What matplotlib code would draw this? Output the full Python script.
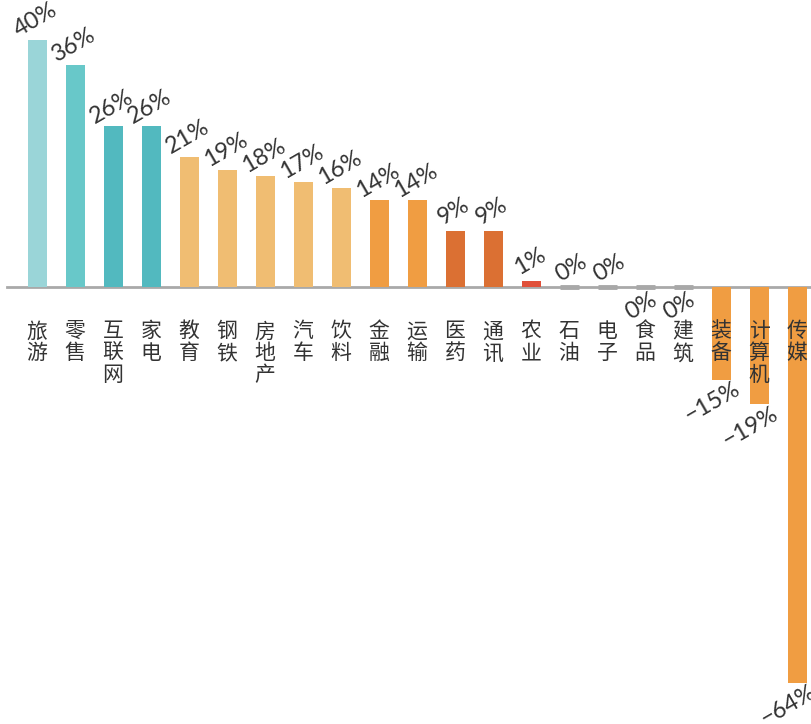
import matplotlib
matplotlib.use("Agg")
import matplotlib.pyplot as plt

plt.rcParams['font.family'] = ['Noto Sans CJK SC', 'DejaVu Sans']

categories = ["旅游", "零售", "互联网", "家电", "教育", "钢铁", "房地产", "汽车", "饮料",
              "金融", "运输", "医药", "通讯", "农业", "石油", "电子", "食品", "建筑",
              "装备", "计算机", "传媒"]
values = [40, 36, 26, 26, 21, 19, 18, 17, 16, 14, 14, 9, 9, 1, 0, 0, 0, 0, -15, -19, -64]
# zero labels drawn under the axis for these
zero_below = ["食品", "建筑"]
colors = ["#9AD5D8", "#68C8C9", "#52B9BF", "#52B9BF", "#F0BD72", "#F0BD72", "#F0BD72",
          "#F0BD72", "#F0BD72", "#F09D42", "#F09D42", "#DB7033", "#DB7033", "#E0503A",
          "#A8A8A8", "#A8A8A8", "#A8A8A8", "#A8A8A8", "#F09D42", "#F09D42", "#F09D42"]

TEXT_COLOR = "#333333"
AXIS_COLOR = "#A9A9A9"

fig = plt.figure(figsize=(8.11, 7.24), dpi=100)
ax = fig.add_axes([0, 0, 1, 1])
ax.set_xlim(-37 / 38, (811 - 37) / 38)
ax.set_ylim(-(724 - 287) / 6.18, 287 / 6.18)
ax.axis("off")

x = list(range(len(categories)))
ax.bar(x, values, width=0.5, color=colors, zorder=2)

# zero bars show as small grey dashes on the axis
for i, v in enumerate(values):
    if v == 0:
        ax.plot([i - 0.25, i + 0.25], [0, 0], color=colors[i], lw=3.5,
                solid_capstyle="butt", zorder=3)

ax.plot([-0.79, 20.5], [0, 0], color=AXIS_COLOR, lw=2, zorder=1)

for i, (c, v) in enumerate(zip(categories, values)):
    label = f"{v}%".replace("-", "−")
    if v > 0 or (v == 0 and c not in zero_below):
        off = (2, -19) if v == 0 else (-1, -20)
    else:
        off = (-4, 19) if v == 0 else (-9, 23)
    ax.annotate(label, (i, v), xytext=(off[0] * 0.72, -off[1] * 0.72),
                textcoords="offset points", ha="center", va="center",
                rotation=30, fontsize=17, color=TEXT_COLOR,
                family=["Lato", "DejaVu Sans"], fontweight="normal", zorder=4)

    ax.annotate("\n".join(c), (i, 0), xytext=(0, -24), textcoords="offset points",
                ha="center", va="top", fontsize=15, color=TEXT_COLOR,
                linespacing=1.0, zorder=4)

fig.savefig("out.png", dpi=100)
